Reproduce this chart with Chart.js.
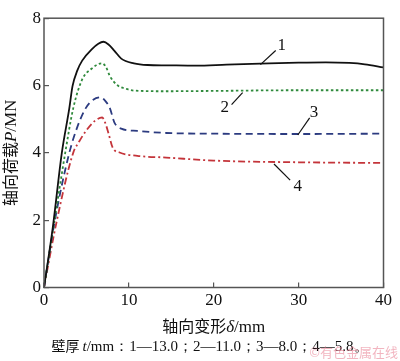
<!DOCTYPE html>
<html>
<head>
<meta charset="utf-8">
<script src="https://cdn.jsdelivr.net/npm/chart.js@4"></script>
<style>
  html, body { margin: 0; padding: 0; background: #fff; }
  #wrap { width: 400px; height: 361px; }
</style>
</head>
<body>
<div id="wrap"><canvas id="loadChart" width="400" height="361"></canvas></div>
<script>
// axial deformation (mm) / axial load (MN)
const deform1 = [0, 1.03, 2.1, 2.98, 3.36, 3.93, 4.5, 5.65, 6.4, 7.0, 7.6, 8.3, 9.1, 10.6, 12.2, 14.4, 17.9, 21.5, 25.5, 30, 33.2, 36, 37.8, 40];
const load1 = [0, 1.77, 4.0, 5.32, 5.98, 6.45, 6.74, 7.08, 7.24, 7.30, 7.22, 7.03, 6.8, 6.66, 6.61, 6.6, 6.59, 6.62, 6.65, 6.68, 6.69, 6.67, 6.63, 6.54];

const deform2 = [0, 1.15, 2.5, 3.44, 4.5, 5.6, 6.8, 7.3, 7.76, 8.7, 9.7, 10.6, 14.4, 20, 30, 40];
const load2 = [0, 1.85, 4.0, 5.32, 6.18, 6.5, 6.66, 6.55, 6.28, 6.0, 5.9, 5.85, 5.83, 5.84, 5.86, 5.86];

const deform3 = [0, 1.22, 2.95, 3.9, 4.9, 5.8, 6.7, 7.2, 7.76, 8.3, 9.1, 11, 14.4, 20, 30, 40];
const load3 = [0, 1.91, 3.97, 4.75, 5.32, 5.58, 5.65, 5.55, 5.33, 4.9, 4.72, 4.65, 4.59, 4.57, 4.56, 4.57];

const deform4 = [0, 1.45, 3.44, 4.13, 4.97, 6.0, 6.85, 7.2, 7.6, 8.1, 8.9, 11, 14.4, 20, 30, 40];
const load4 = [0, 1.91, 4.0, 4.33, 4.66, 4.95, 5.05, 4.9, 4.58, 4.15, 4.01, 3.91, 3.86, 3.77, 3.72, 3.70];

const xTicks = [0, 10, 20, 30, 40];
const yTicks = [0, 2, 4, 6, 8];

// curve numbers: [label, leader start x, y, leader end x, y, text x, y] in data units
const curveLabels = [
    ['1', 25.5, 6.62, 27.3, 7.04, 28.0, 7.19],
    ['2', 23.4, 5.79, 22.1, 5.43, 21.3, 5.34],
    ['3', 29.9, 4.53, 31.3, 5.04, 31.8, 5.21],
    ['4', 27.1, 3.67, 29.0, 3.19, 29.9, 3.0]
];

const SERIF = '"Liberation Serif", "Times New Roman", serif';
const CJK = '"Noto Sans CJK SC", sans-serif';

function toPoints(xs, ys) {
    return xs.map((x, i) => ({ x: x, y: ys[i] }));
}

function series(xs, ys, color, dash) {
    return {
        data: toPoints(xs, ys),
        borderColor: color,
        borderWidth: 1.8,
        borderDash: dash,
        pointRadius: 0,
        fill: false,
        cubicInterpolationMode: 'monotone'
    };
}

// draws a row of text pieces with different fonts, centred on x
function drawRich(ctx, parts, x, y) {
    let total = 0;
    parts.forEach(p => { ctx.font = p.f; total += ctx.measureText(p.t).width; });
    let cx = x - total / 2;
    ctx.textAlign = 'left';
    ctx.textBaseline = 'alphabetic';
    parts.forEach(p => {
        ctx.font = p.f;
        ctx.fillText(p.t, cx, y);
        cx += ctx.measureText(p.t).width;
    });
}

const decorPlugin = {
    id: 'decor',
    afterDraw(chart) {
        const ctx = chart.ctx;
        const a = chart.chartArea;
        const xs = chart.scales.x, ys = chart.scales.y;
        ctx.save();

        // frame
        ctx.strokeStyle = '#555';
        ctx.lineWidth = 1.5;
        ctx.strokeRect(a.left, a.top, a.right - a.left, a.bottom - a.top);

        // curve numbers with leader lines
        ctx.strokeStyle = '#111';
        ctx.lineWidth = 1.2;
        ctx.fillStyle = '#111';
        ctx.font = '17px ' + SERIF;
        ctx.textAlign = 'center';
        ctx.textBaseline = 'middle';
        curveLabels.forEach(l => {
            ctx.beginPath();
            ctx.moveTo(xs.getPixelForValue(l[1]), ys.getPixelForValue(l[2]));
            ctx.lineTo(xs.getPixelForValue(l[3]), ys.getPixelForValue(l[4]));
            ctx.stroke();
            ctx.fillText(l[0], xs.getPixelForValue(l[5]), ys.getPixelForValue(l[6]));
        });

        // x axis title
        ctx.fillStyle = '#111';
        drawRich(ctx, [
            { t: '轴向变形', f: '16px ' + CJK },
            { t: 'δ', f: 'italic 17px ' + SERIF },
            { t: '/mm', f: '17px ' + SERIF }
        ], (a.left + a.right) / 2, 332);

        // y axis title
        ctx.save();
        ctx.translate(16, (a.top + a.bottom) / 2);
        ctx.rotate(-Math.PI / 2);
        drawRich(ctx, [
            { t: '轴向荷载', f: '16px ' + CJK },
            { t: 'P', f: 'italic 17px ' + SERIF },
            { t: '/MN', f: '17px ' + SERIF }
        ], 0, 0);
        ctx.restore();

        // caption
        drawRich(ctx, [
            { t: '壁厚 ', f: '14px ' + CJK },
            { t: 't', f: 'italic 15px ' + SERIF },
            { t: '/mm：1—13.0；2—11.0；3—8.0；4—5.8。', f: '15px ' + SERIF }
        ], 210, 351);

        // watermark
        ctx.fillStyle = 'rgba(232,120,140,0.55)';
        ctx.font = '13px ' + CJK;
        ctx.textAlign = 'right';
        ctx.fillText('©有色金属在线', 398, 357);

        ctx.restore();
    }
};

const ctx = document.getElementById('loadChart').getContext('2d');
new Chart(ctx, {
    type: 'line',
    data: {
        datasets: [
            series(deform1, load1, '#111111', []),
            series(deform2, load2, '#2f8a3c', [2.5, 2.5]),
            series(deform3, load3, '#2c3b80', [7, 4.5]),
            series(deform4, load4, '#c4343a', [7, 3, 2, 3])
        ]
    },
    options: {
        responsive: false,
        animation: false,
        layout: { padding: { top: 6, right: 8, bottom: 0, left: 0 } },
        plugins: {
            legend: { display: false },
            tooltip: { enabled: false }
        },
        scales: {
            x: {
                type: 'linear',
                min: xTicks[0],
                max: xTicks[xTicks.length - 1],
                afterBuildTicks: s => { s.ticks = xTicks.map(v => ({ value: v })); },
                afterFit: s => { s.height = 73.5; },
                border: { display: false },
                grid: { drawOnChartArea: false, tickLength: -5, color: '#555', lineWidth: 1.2 },
                ticks: { padding: 8, color: '#111', font: { family: SERIF, size: 17 } }
            },
            y: {
                type: 'linear',
                min: yTicks[0],
                max: yTicks[yTicks.length - 1],
                afterBuildTicks: s => { s.ticks = yTicks.map(v => ({ value: v })); },
                afterFit: s => { s.width = 44; },
                border: { display: false },
                grid: { drawOnChartArea: false, tickLength: -5, color: '#555', lineWidth: 1.2 },
                ticks: { padding: 8, color: '#111', font: { family: SERIF, size: 17 } }
            }
        }
    },
    plugins: [decorPlugin]
});
</script>
</body>
</html>
